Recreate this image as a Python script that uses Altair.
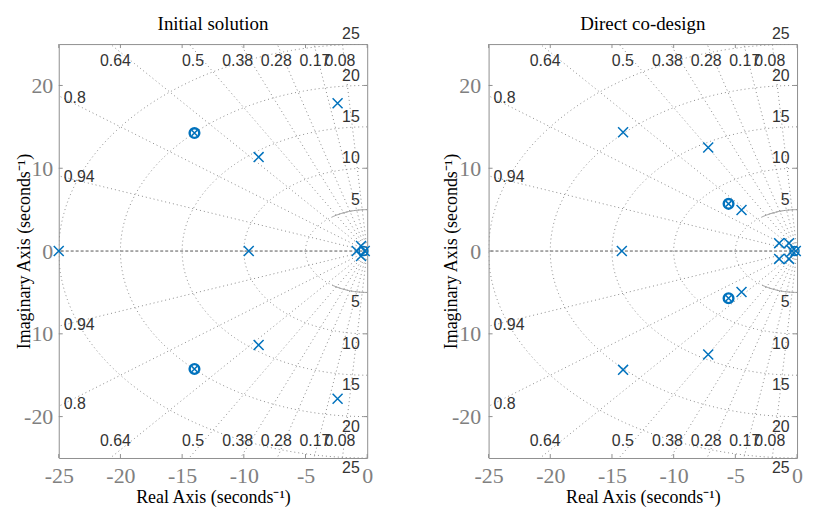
import altair as alt
import numpy as np
import pandas as pd

panel_titles = ["Initial solution", "Direct co-design"]

# ---- Initial solution (poles x, zeros o, coincident pole/zero pairs) ----
init_pole_re = [-25.0, -9.6, -8.8, -8.8, -2.4, -2.4, -0.85, -0.5, -0.5, -0.2]
init_pole_im = [0.0, 0.0, 11.35, -11.35, 17.85, -17.85, 0.0, 0.6, -0.6, 0.0]
init_zero_re = [-0.3]
init_zero_im = [0.0]
init_pz_re = [-14.0, -14.0]
init_pz_im = [14.25, -14.25]

# ---- Direct co-design ----
dir_pole_re = [-14.2, -14.1, -14.1, -7.2, -7.2, -4.5, -4.5, -1.45, -1.45, -0.65, -0.65, -0.4, -0.1]
dir_pole_im = [0.0, 14.35, -14.35, 12.5, -12.5, 4.95, -4.95, 0.95, -0.95, 0.95, -0.95, 0.0, 0.0]
dir_zero_re = [-0.2]
dir_zero_im = [0.0]
dir_pz_re = [-5.55, -5.55]
dir_pz_im = [5.7, -5.7]

# ---- s-plane grid ----
zeta_vals = [0.08, 0.17, 0.28, 0.38, 0.5, 0.64, 0.8, 0.94]
zeta_text = ["0.08", "0.17", "0.28", "0.38", "0.5", "0.64", "0.8", "0.94"]
zeta_top_dx = [11, 12, 7, 2, 0, -1]  # pixel nudges for the top/bottom labels
wn_vals = [5, 10, 15, 20, 25]
x_ticks = [-25, -20, -15, -10, -5, 0]
y_ticks = [-20, -10, 0, 10, 20]

W, H = 310, 416
XMIN, XMAX, YMIN, YMAX = -25.0, 0.0, -25.0, 25.0
PPX = W / (XMAX - XMIN)
PPY = H / (YMAX - YMIN)

BLUE = "#0072BD"
GRID = "#8a8a8a"
FRAME = "#8f8f8f"
LABEL = "#333333"
SERIF = "Liberation Serif"
SANS = "Liberation Sans"

xs = alt.Scale(domain=[XMIN, XMAX], nice=False, zero=False)
ys = alt.Scale(domain=[YMIN, YMAX], nice=False, zero=False)

# grid geometry
circ_rows = []
for w in wn_vals:
    for k, ph in enumerate(np.linspace(0, np.pi, 241)):
        circ_rows.append({"x": -w * np.sin(ph), "y": w * np.cos(ph), "g": w, "k": k})
circ_df = pd.DataFrame(circ_rows)

arc_rows = []
for side, rng in (("u", np.linspace(0, 0.6, 30)), ("l", np.linspace(np.pi - 0.6, np.pi, 30))):
    for k, ph in enumerate(rng):
        arc_rows.append({"x": -wn_vals[0] * np.sin(ph), "y": wn_vals[0] * np.cos(ph), "g": side, "k": k})
arc_df = pd.DataFrame(arc_rows)

ray_rows = []
for z in zeta_vals:
    s = np.sqrt(1 - z * z)
    t = min(-XMIN / z, YMAX / s)
    for sg in (1, -1):
        ray_rows.append({"x": 0.0, "y": 0.0, "g": f"{z}{sg}", "k": 0})
        ray_rows.append({"x": -t * z, "y": sg * t * s, "g": f"{z}{sg}", "k": 1})
ray_df = pd.DataFrame(ray_rows)

lab_rows = []
YL = 22.9
for z, t, dx in zip(zeta_vals[:6], zeta_text[:6], zeta_top_dx):
    s = np.sqrt(1 - z * z)
    xr = -YL * z / s + dx / PPX
    lab_rows.append({"x": xr, "y": YL, "t": t})
    lab_rows.append({"x": xr, "y": -YL, "t": t})
zlab_df = pd.DataFrame(lab_rows)

side_rows = []
XL = -24.6
for z, t in zip(zeta_vals[6:], zeta_text[6:]):
    s = np.sqrt(1 - z * z)
    yr = -XL * s / z
    side_rows.append({"x": XL, "y": yr, "t": t})
    side_rows.append({"x": XL, "y": -yr, "t": t})
side_df = pd.DataFrame(side_rows)

wn_rows = []
for w in wn_vals:
    wn_rows.append({"x": -0.6, "y": w + 1.2, "t": str(w)})
    wn_rows.append({"x": -0.6, "y": -(w + 1.2), "t": str(w)})
wn_df = pd.DataFrame(wn_rows)

tick_len_y = 4 / PPY
tick_len_x = 4 / PPX
xt_df = pd.DataFrame(
    [{"x": v, "y": YMIN, "y2": YMIN + tick_len_y} for v in x_ticks]
    + [{"x": v, "y": YMAX, "y2": YMAX - tick_len_y} for v in x_ticks]
)
yt_df = pd.DataFrame(
    [{"y": v, "x": XMIN, "x2": XMIN + tick_len_x} for v in y_ticks]
    + [{"y": v, "x": XMAX, "x2": XMAX - tick_len_x} for v in y_ticks]
)

CROSS = "M-1,-1L1,1M-1,1L1,-1"


def make_panel(title, pre, pim, zre, zim, pzre, pzim, ylabpad, ytitlepad):
    xaxis = alt.Axis(
        values=x_ticks, ticks=False, domain=False, grid=False,
        labelFont=SERIF, labelFontSize=22, labelColor="#808080",
        labelPadding=8, labelFlush=False, labelOverlap=False,
        labelExpr="'' + datum.value",
        title="Real Axis (seconds\u207b\u00b9)", titleFont=SERIF, titleFontSize=18,
        titleFontWeight="normal", titleColor="black",
        titlePadding=16, titleBaseline="alphabetic",
    )
    yaxis = alt.Axis(
        values=y_ticks, ticks=False, domain=False, grid=False,
        labelFont=SERIF, labelFontSize=22, labelColor="#808080",
        labelPadding=ylabpad, labelFlush=False, labelOverlap=False,
        labelExpr="'' + datum.value",
        title="Imaginary Axis (seconds\u207b\u00b9)", titleFont=SERIF, titleFontSize=18,
        titleFontWeight="normal", titleColor="black",
        titlePadding=ytitlepad, titleBaseline="middle",
    )
    X = lambda f="x": alt.X(f"{f}:Q", scale=xs, axis=xaxis)
    Y = lambda f="y": alt.Y(f"{f}:Q", scale=ys, axis=yaxis)

    circles = alt.Chart(circ_df).mark_line(
        color=GRID, strokeDash=[1, 3], strokeWidth=1, clip=True
    ).encode(x=X(), y=Y(), detail="g:N", order="k:Q")
    arcs = alt.Chart(arc_df).mark_line(color="#9a9a9a", strokeWidth=1, clip=True).encode(
        x=X(), y=Y(), detail="g:N", order="k:Q")
    rays = alt.Chart(ray_df).mark_line(
        color=GRID, strokeDash=[1, 3], strokeWidth=1, clip=True
    ).encode(x=X(), y=Y(), detail="g:N", order="k:Q")
    real_axis = alt.Chart(pd.DataFrame({"y": [0.0]})).mark_rule(
        color="#555555", strokeDash=[3, 2], strokeWidth=1
    ).encode(y=Y())
    xt = alt.Chart(xt_df).mark_rule(color=FRAME, strokeWidth=1).encode(x=X(), y=Y(), y2="y2:Q")
    yt = alt.Chart(yt_df).mark_rule(color=FRAME, strokeWidth=1).encode(y=Y(), x=X(), x2="x2:Q")

    zlab = alt.Chart(zlab_df).mark_text(
        font=SANS, fontSize=16, color=LABEL, align="right", baseline="middle"
    ).encode(x=X(), y=Y(), text="t:N")
    slab = alt.Chart(side_df).mark_text(
        font=SANS, fontSize=16, color=LABEL, align="left", baseline="middle"
    ).encode(x=X(), y=Y(), text="t:N")
    wlab = alt.Chart(wn_df).mark_text(
        font=SANS, fontSize=16, color=LABEL, align="right", baseline="middle"
    ).encode(x=X(), y=Y(), text="t:N")

    ttl = alt.Chart(pd.DataFrame({"t": [title]})).mark_text(
        font=SERIF, fontSize=19, color="black", align="center", baseline="alphabetic"
    ).encode(x=alt.value(W / 2), y=alt.value(-14), text="t:N")

    poles = alt.Chart(pd.DataFrame({"x": pre, "y": pim})).mark_point(
        shape=CROSS, size=100, color=BLUE, strokeWidth=1.5, filled=False, opacity=1
    ).encode(x=X(), y=Y())
    zeros = alt.Chart(pd.DataFrame({"x": zre, "y": zim})).mark_point(
        shape="circle", size=80, color=BLUE, strokeWidth=1.5, filled=False, opacity=1
    ).encode(x=X(), y=Y())
    pz_df = pd.DataFrame({"x": pzre, "y": pzim})
    pz_o = alt.Chart(pz_df).mark_point(
        shape="circle", size=95, color=BLUE, strokeWidth=2.4, filled=False, opacity=1
    ).encode(x=X(), y=Y())
    pz_x = alt.Chart(pz_df).mark_point(
        shape=CROSS, size=30, color=BLUE, strokeWidth=1.5, filled=False, opacity=1
    ).encode(x=X(), y=Y())

    return alt.layer(
        circles, rays, arcs, real_axis, xt, yt, zlab, slab, wlab, ttl,
        poles, zeros, pz_o, pz_x
    ).properties(width=W, height=H)


left = make_panel(panel_titles[0], init_pole_re, init_pole_im, init_zero_re, init_zero_im,
                  init_pz_re, init_pz_im, 6, -1)
right = make_panel(panel_titles[1], dir_pole_re, dir_pole_im, dir_zero_re, dir_zero_im,
                   dir_pz_re, dir_pz_im, 8, 0)

chart = alt.hconcat(left, right, spacing=68).configure_view(
    stroke=FRAME, strokeWidth=1
).properties(padding={"left": 7, "top": 5, "right": 0, "bottom": 0}, background="white")

chart.save("out.html", embed_options={"renderer": "svg", "actions": False})
